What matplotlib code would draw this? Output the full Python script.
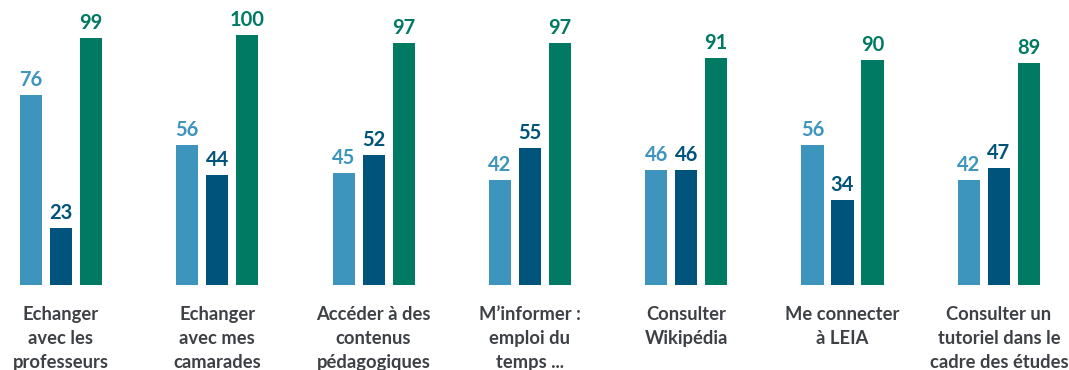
import matplotlib.pyplot as plt
import numpy as np

categories = [
    "Echanger\navec les\nprofesseurs",
    "Echanger\navec mes\ncamarades",
    "Accéder à des\ncontenus\npédagogiques",
    "M\u2019informer :\nemploi du\ntemps ...",
    "Consulter\nWikipédia",
    "Me connecter\nà LEIA",
    "Consulter un\ntutoriel dans le\ncadre des études",
]
serie_a = [76, 56, 45, 42, 46, 56, 42]
serie_b = [23, 44, 52, 55, 46, 34, 47]
serie_c = [99, 100, 97, 97, 91, 90, 89]

colors = ["#3d95be", "#00537a", "#007a63"]
text_color = "#3d4045"

plt.rcParams['font.family'] = ['Lato', 'DejaVu Sans']

fig = plt.figure(figsize=(10.69, 3.70), dpi=100)
ax = fig.add_axes([0, 0, 1, 1])

x = np.arange(len(categories))
width = 0.141
offset = 0.192

for i, (vals, col) in enumerate(zip([serie_a, serie_b, serie_c], colors)):
    pos = x + (i - 1) * offset
    bars = ax.bar(pos, vals, width=width, color=col)
    for b, v in zip(bars, vals):
        ax.text(b.get_x() + b.get_width() / 2, v + 2.0, str(v),
                ha='center', va='bottom', fontsize=14.5, fontweight='bold',
                color=col)

for xi, label in zip(x, categories):
    ax.text(xi, -8.3, label, ha='center', va='top', fontsize=13.2,
            fontweight='bold', color=text_color, linespacing=1.5)

ax.set_xlim(-0.390, 6.449)
ax.set_ylim(-34.07, 114.2)
ax.axis('off')

fig.savefig("out.png", dpi=100)
